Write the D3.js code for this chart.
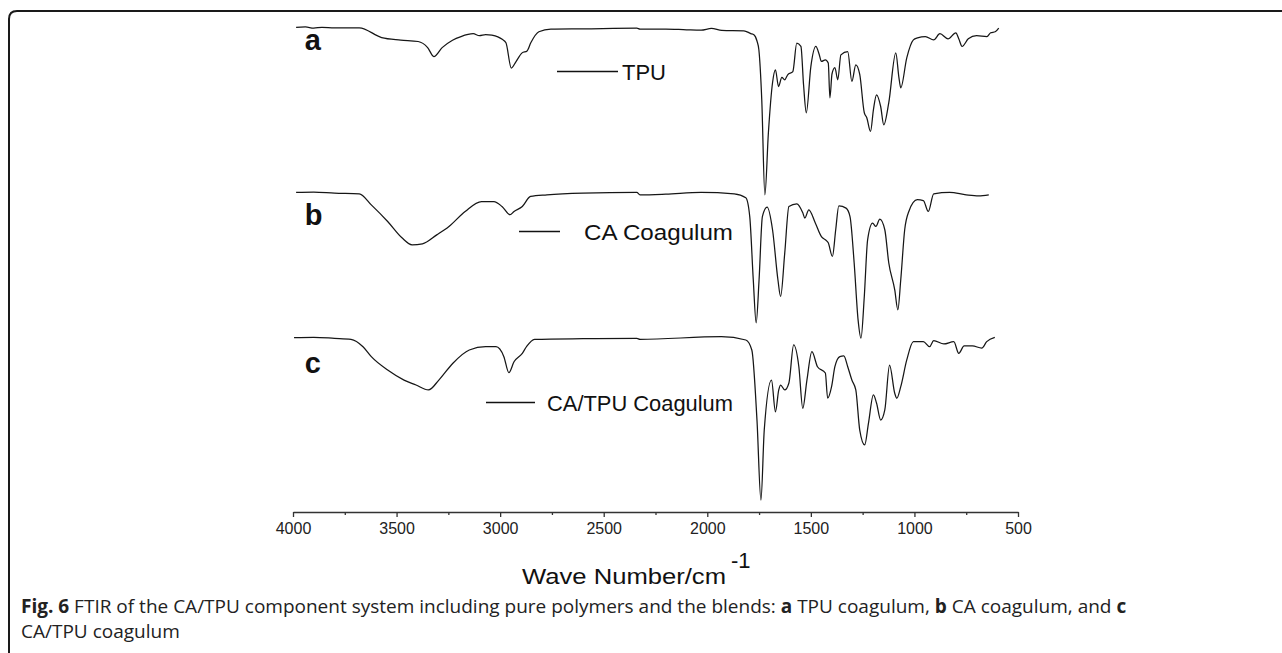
<!DOCTYPE html>
<html>
<head>
<meta charset="utf-8">
<script src="https://cdn.jsdelivr.net/npm/d3@7"></script>
<style>
  html, body { margin: 0; padding: 0; background: #fff; }
  svg { display: block; }
</style>
</head>
<body>
<svg id="chart" width="1282" height="653"></svg>
<script>
// ---------- data ----------
const seriesNames = ["TPU", "CA Coagulum", "CA/TPU Coagulum"];
const seriesLetters = ["a", "b", "c"];
const seriesOffsets = [188, 88, 0];           // vertical stacking offset (transmittance units)
const xTicks = [4000, 3500, 3000, 2500, 2000, 1500, 1000, 500];
const xMinorTicks = [3750, 3250, 2750, 2250, 1750, 1250, 750];
const xTitle = "Wave Number/cm";
const xTitleSup = "-1";
const captionLine1 = [
  ["Fig. 6", true], [" FTIR of the CA/TPU component system including pure polymers and the blends: ", false],
  ["a", true], [" TPU coagulum, ", false], ["b", true], [" CA coagulum, and ", false], ["c", true]
];
const captionLine2 = "CA/TPU coagulum";

// [wavenumber, transmittance]
const tpu = [[3985,100.2],[3940,100.5],[3900,99.8],[3860,100.3],[3800,100],[3680,100],[3572,94.1],[3480,92.6],[3396,91.7],[3350,88],[3320,82.6],[3280,88],[3230,92.5],[3189,94.7],[3130,96.4],[3100,95.2],[3070,95.8],[3040,95.5],[3011,94.5],[2990,93],[2972,90.9],[2946,75.6],[2924,79.4],[2894,84.8],[2870,86],[2852,90.9],[2813,97.6],[2755,99.2],[2600,99.4],[2340,99.8],[2325,99.2],[2200,99.2],[2100,98.8],[2030,98.6],[1980,99.6],[1930,98.5],[1823,98.2],[1790,96.5],[1775,95.8],[1760,92],[1751,86.7],[1737,56.4],[1722,-1.2],[1705,36.4],[1685,66.7],[1671,74.5],[1656,64.4],[1640,70],[1626,68.5],[1612,71.5],[1587,73.5],[1568,90.7],[1548,88.7],[1535,65],[1522,48.5],[1500,76.5],[1476,88.7],[1460,84],[1449,79.6],[1430,80.6],[1416,78.6],[1408,57.6],[1398,72],[1384,75.8],[1370,68.5],[1355,83.6],[1322,85.6],[1302,67.5],[1283,77.6],[1264,71.7],[1242,48.5],[1230,45.5],[1212,37.2],[1198,50.3],[1183,59.4],[1163,52.3],[1148,41.2],[1124,54.5],[1090,84.8],[1075,70],[1066,63.6],[1037,81.8],[1005,92.7],[985,93.9],[947,94.7],[907,92.7],[877,96.4],[838,93.3],[800,97],[785,93],[770,88.7],[740,93.3],[700,95.2],[650,94.7],[632,97],[610,97.6],[593,99.8]];

const ca = [[3985,100.2],[3900,100.4],[3800,99.8],[3680,99.4],[3622,92.7],[3543,82.6],[3474,72.7],[3425,68.5],[3375,69.1],[3306,74.5],[3247,79.6],[3169,88.7],[3090,94.7],[3030,94.7],[2991,91.7],[2952,86.7],[2933,88.7],[2893,91.7],[2853,97.8],[2774,98.8],[2600,99.8],[2340,100.2],[2325,98.8],[2200,99.2],[2030,100.2],[1870,99.4],[1814,97],[1795,85.6],[1778,47.3],[1764,21.2],[1750,47.3],[1734,85.6],[1711,91.3],[1685,77.6],[1659,47.3],[1646,37.2],[1626,63.6],[1606,91.7],[1568,93.3],[1539,87.9],[1529,84.7],[1510,89.7],[1478,81.6],[1449,73.5],[1430,71.5],[1416,69.7],[1396,61.4],[1380,77.6],[1365,92.1],[1330,90.7],[1311,85.6],[1291,57.6],[1272,23],[1258,11.9],[1242,37.2],[1226,71.5],[1202,81.6],[1186,79.6],[1167,84.1],[1143,77.6],[1124,57.6],[1095,41.2],[1080,29.1],[1066,47.3],[1047,77.6],[1027,88.7],[986,95.8],[957,95.3],[933,88.7],[907,99.4],[830,100.2],[750,98.8],[690,98.2],[641,98.8]];

const blend = [[3995,100.2],[3900,100.4],[3800,99.8],[3720,99.2],[3662,94.7],[3622,88.7],[3543,80.6],[3464,74.5],[3406,71.5],[3346,68.5],[3296,74.5],[3228,84.7],[3149,92.7],[3070,94.7],[3020,94.7],[2982,88.7],[2958,79],[2933,85.6],[2893,90.7],[2873,94.7],[2834,99.2],[2600,99.6],[2340,99.8],[2325,99.2],[1932,100.8],[1814,98.8],[1785,92.7],[1760,50],[1741,1.8],[1725,44.2],[1690,74.5],[1671,55.3],[1655,68.5],[1646,71.5],[1626,68.5],[1606,72.7],[1583,95.8],[1558,82.6],[1539,57.4],[1519,74.5],[1495,91.7],[1468,82.6],[1430,78.8],[1419,63.5],[1400,70.5],[1384,82.6],[1360,88.7],[1341,89.1],[1322,82.6],[1302,74.5],[1283,68.5],[1264,44.2],[1240,35.2],[1222,48.3],[1198,65.5],[1183,60.6],[1163,50.3],[1143,56.4],[1120,83.6],[1095,66.5],[1085,63.5],[1066,70.5],[1037,86.7],[1005,97.8],[957,97.8],[927,94.7],[907,98.4],[858,96.4],[810,97.8],[786,90.7],[760,95.2],[720,95.2],[675,93.9],[651,97.8],[612,100.4]];

const seriesData = [tpu, ca, blend];

// ---------- layout ----------
const svg = d3.select("#chart");
const axisY = 512;
const x = d3.scaleLinear().domain([4000, 500]).range([293, 1018]);
const y = d3.scaleLinear().domain([0, 300]).range([503, 8]);
const sansFont = "Liberation Sans, Arial, sans-serif";

// frame (rounded top-left corner)
svg.append("path")
  .attr("d", "M9,653 L9,19 Q9,11 17,11 L1282,11")
  .attr("fill", "none").attr("stroke", "#1a1a1a").attr("stroke-width", 2);

// spectra
const line = d3.line()
  .x(d => x(d[0]))
  .y(d => y(d[1] + d.off))
  .curve(d3.curveMonotoneX);

seriesData.forEach((s, i) => {
  const pts = s.map(p => { const q = [p[0], p[1]]; q.off = seriesOffsets[i]; return q; })
               .sort((a, b) => b[0] - a[0]);
  svg.append("path")
    .attr("d", line(pts))
    .attr("fill", "none")
    .attr("stroke", "#161616")
    .attr("stroke-width", 1.25)
    .attr("stroke-linejoin", "round");
});

// series letters
const letterDy = [22, 32, 35];
seriesLetters.forEach((l, i) => {
  svg.append("text")
    .attr("x", x(3943))
    .attr("y", y(100 + seriesOffsets[i]) + letterDy[i])
    .attr("font-family", sansFont)
    .attr("font-weight", "bold")
    .attr("font-size", 29)
    .attr("fill", "#111")
    .text(l);
});

// legends
const legendSpec = [
  { x1: 557, x2: 618, tx: 622, ty: 80, w: null },
  { x1: 519, x2: 560, tx: 584, ty: 240, w: 149 },
  { x1: 486, x2: 535, tx: 547, ty: 411, w: 186 }
];
seriesNames.forEach((n, i) => {
  const L = legendSpec[i];
  svg.append("line")
    .attr("x1", L.x1).attr("x2", L.x2)
    .attr("y1", L.ty - 8.5).attr("y2", L.ty - 8.5)
    .attr("stroke", "#111").attr("stroke-width", 1.3);
  const t = svg.append("text")
    .attr("x", L.tx)
    .attr("y", L.ty)
    .attr("font-family", sansFont)
    .attr("font-size", 22)
    .attr("fill", "#111")
    .text(n);
  if (L.w) t.attr("textLength", L.w).attr("lengthAdjust", "spacingAndGlyphs");
});

// axis
const axis = d3.axisBottom(x).tickValues(xTicks).tickSize(5).tickPadding(6).tickSizeOuter(0)
  .tickFormat(d3.format("d"));
const gAxis = svg.append("g").attr("transform", `translate(0,${axisY})`).call(axis);
gAxis.select(".domain").attr("stroke", "#333").attr("stroke-width", 1.5);
gAxis.selectAll(".tick line").attr("stroke", "#333").attr("stroke-width", 1.3);
gAxis.selectAll(".tick text")
  .attr("font-family", sansFont)
  .attr("font-size", 16).attr("fill", "#222");

const minor = d3.axisBottom(x).tickValues(xMinorTicks).tickSize(3).tickFormat("");
const gMinor = svg.append("g").attr("transform", `translate(0,${axisY})`).call(minor);
gMinor.select(".domain").remove();
gMinor.selectAll(".tick line").attr("stroke", "#333").attr("stroke-width", 1.3);

// axis title
svg.append("text")
  .attr("x", 522).attr("y", 584)
  .attr("font-family", sansFont)
  .attr("font-size", 22).attr("fill", "#111")
  .attr("textLength", 204).attr("lengthAdjust", "spacingAndGlyphs")
  .text(xTitle);
svg.append("text")
  .attr("x", 731).attr("y", 568)
  .attr("font-family", sansFont)
  .attr("font-size", 22).attr("fill", "#111")
  .text(xTitleSup);

// caption
const cap1 = svg.append("text")
  .attr("x", 21).attr("y", 613)
  .attr("font-family", "Open Sans, Noto Sans, sans-serif")
  .attr("font-size", 19).attr("fill", "#222");
captionLine1.forEach(([t, b]) => {
  cap1.append("tspan").attr("font-weight", b ? "bold" : "normal").text(t);
});
svg.append("text")
  .attr("x", 21).attr("y", 638)
  .attr("font-family", "Open Sans, Noto Sans, sans-serif")
  .attr("font-size", 19).attr("fill", "#222")
  .text(captionLine2);
</script>
</body>
</html>
